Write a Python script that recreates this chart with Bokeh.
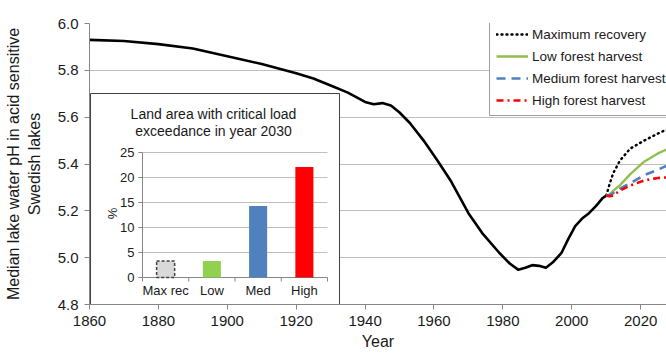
import math
from bokeh.plotting import figure
from bokeh.models import Range1d, FixedTicker, Legend, LegendItem, NumeralTickFormatter
from bokeh.core.properties import value
from bokeh.embed import file_html
from bokeh.resources import INLINE

# ---------------- data ----------------
hist_years = [1860, 1870, 1880, 1890, 1900, 1910, 1920, 1925, 1930, 1935, 1940, 1942.5,
              1945, 1947.5, 1950, 1953, 1957, 1961, 1965, 1970, 1974, 1979, 1982, 1984.5,
              1986.5, 1988.5, 1990.5, 1992.5, 1994.5, 1997, 1999, 2001, 2003, 2005, 2007,
              2009, 2010]
hist_ph = [5.93, 5.925, 5.912, 5.893, 5.86, 5.827, 5.788, 5.765, 5.735, 5.705, 5.665, 5.655,
           5.66, 5.65, 5.62, 5.575, 5.50, 5.415, 5.325, 5.19, 5.105, 5.02, 4.975, 4.948,
           4.957, 4.968, 4.965, 4.957, 4.98, 5.02, 5.08, 5.135, 5.167, 5.19, 5.22,
           5.255, 5.265]

scen_years = [2010, 2011, 2012, 2014, 2017, 2021, 2025, 2028]
max_recovery = [5.265, 5.315, 5.36, 5.415, 5.466, 5.50, 5.53, 5.55]
low_harvest = [5.265, 5.27, 5.285, 5.31, 5.357, 5.41, 5.445, 5.465]
medium_harvest = [5.265, 5.268, 5.275, 5.295, 5.318, 5.352, 5.376, 5.395]
high_harvest = [5.265, 5.262, 5.265, 5.287, 5.308, 5.33, 5.34, 5.343]

x_ticks = [1860, 1880, 1900, 1920, 1940, 1960, 1980, 2000, 2020]
y_ticks = [4.8, 5.0, 5.2, 5.4, 5.6, 5.8, 6.0]

inset_categories = ["Max rec", "Low", "Med", "High"]
inset_pct = [3.3, 3.3, 14.3, 22.1]
inset_colors = ["#d9d9d9", "#92d050", "#4f81bd", "#ff0000"]
inset_ticks = [0, 5, 10, 15, 20, 25]
inset_title = ["Land area with critical load", "exceedance in year 2030"]

FONT = value("Liberation Sans")
TXT = "#1a1a1a"

# ---------------- main figure ----------------
p = figure(width=666, height=355, x_range=Range1d(1860, 2027.5), y_range=Range1d(4.8, 6.0),
           output_backend="svg", toolbar_location=None,
           min_border_left=89, min_border_right=0, min_border_top=23, min_border_bottom=51)
p.outline_line_color = None
p.background_fill_color = "white"
p.border_fill_color = "white"

p.xgrid.visible = False
p.ygrid.grid_line_color = "#bfbfbf"
p.ygrid.grid_line_width = 1

for ax in (p.xaxis[0], p.yaxis[0]):
    ax.axis_line_color = "#868686"
    ax.major_tick_line_color = "#868686"
    ax.minor_tick_line_color = None
    ax.major_tick_in = 0
    ax.major_tick_out = 5
    ax.major_label_text_font = "Liberation Sans"
    ax.major_label_text_font_size = "15px"
    ax.major_label_text_color = TXT
    ax.axis_label_text_font = "Liberation Sans"
    ax.axis_label_text_font_size = "16px"
    ax.axis_label_text_font_style = "normal"
    ax.axis_label_text_color = TXT

p.xaxis.ticker = FixedTicker(ticks=x_ticks)
p.yaxis.ticker = FixedTicker(ticks=y_ticks)
p.yaxis.formatter = NumeralTickFormatter(format="0.0")
p.xaxis.axis_label = "Year"
p.yaxis.axis_label = "Median lake water pH in acid sensitive\nSwedish lakes"
p.xaxis.major_label_standoff = 6
p.xaxis.axis_label_standoff = 4
p.yaxis.major_label_standoff = 6
p.yaxis.axis_label_standoff = 12

# historical curve
p.line(hist_years, hist_ph, line_color="black", line_width=2.6)

# scenarios
r_max = p.line(scen_years, max_recovery, line_color="black", line_width=2.4,
               line_dash="1 4", line_cap="round")
r_low = p.line(scen_years, low_harvest, line_color="#8fc04f", line_width=2.4)
r_med = p.line(scen_years, medium_harvest, line_color="#4f81bd", line_width=2.6,
               line_dash="9 6")
r_high = p.line(scen_years, high_harvest, line_color="#ff0000", line_width=2.6,
                line_dash="7 4 2 4")

legend = Legend(items=[
    LegendItem(label="Maximum recovery", renderers=[r_max]),
    LegendItem(label="Low forest harvest", renderers=[r_low]),
    LegendItem(label="Medium forest harvest", renderers=[r_med]),
    LegendItem(label="High forest harvest", renderers=[r_high]),
], location=(400, 188))
legend.label_text_font = "Liberation Sans"
legend.label_text_font_size = "13.5px"
legend.label_text_color = TXT
legend.glyph_width = 32
legend.glyph_height = 18
legend.label_height = 18
legend.label_standoff = 4
legend.spacing = 4
legend.padding = 6
legend.margin = 0
legend.border_line_color = "#404040"
legend.border_line_width = 1
legend.background_fill_color = "white"
legend.background_fill_alpha = 1
p.add_layout(legend)

# ---------------- inset bar chart (own scales) ----------------
p.extra_x_ranges = {"ix": Range1d(-1.146, 11.33)}
p.extra_y_ranges = {"iy": Range1d(-5.4, 50.8)}
IX = dict(x_range_name="ix", y_range_name="iy")

p.quad(left=[-1.124], right=[4.26], bottom=[-5.4], top=[36.8], fill_color="white",
       line_color="#404040", line_width=1, **IX)

n = len(inset_categories)
xs = [i + 0.5 for i in range(n)]

# gridlines
grid_vals = [t for t in inset_ticks if t > 0]
p.segment(x0=[0] * len(grid_vals), x1=[n] * len(grid_vals), y0=grid_vals, y1=grid_vals,
          line_color="#bfbfbf", line_width=1, **IX)
# axes
p.segment(x0=[0], x1=[0], y0=[0], y1=[inset_ticks[-1]], line_color="#868686", line_width=1, **IX)
p.segment(x0=[0], x1=[n], y0=[0], y1=[0], line_color="#868686", line_width=1, **IX)
# ticks
p.segment(x0=[-0.09] * len(inset_ticks), x1=[0] * len(inset_ticks), y0=inset_ticks, y1=inset_ticks,
          line_color="#868686", line_width=1, **IX)
p.segment(x0=list(range(n + 1)), x1=list(range(n + 1)), y0=[0] * (n + 1), y1=[-0.8] * (n + 1),
          line_color="#868686", line_width=1, **IX)

# bars
p.vbar(x=xs[:1], top=inset_pct[:1], width=0.39, bottom=0, fill_color=inset_colors[:1],
       line_color="#404040", line_width=1.5, line_dash="3 2", **IX)
p.vbar(x=xs[1:], top=inset_pct[1:], width=0.39, bottom=0, fill_color=inset_colors[1:],
       line_color=None, **IX)

# tick labels
p.text(x=[0] * len(inset_ticks), y=inset_ticks, text=[str(t) for t in inset_ticks],
       x_offset=-8, text_align="right", text_baseline="middle", text_font=FONT,
       text_font_size="13px", text_color=TXT, **IX)
p.text(x=xs, y=[0] * n, text=inset_categories, y_offset=13, text_align="center",
       text_baseline="middle", text_font=FONT, text_font_size="13px", text_color=TXT, **IX)
p.text(x=[-0.65], y=[12.8], text=["%"], angle=math.pi / 2, text_align="center",
       text_baseline="middle", text_font=FONT, text_font_size="13px", text_color=TXT, **IX)
p.text(x=[1.535] * len(inset_title), y=[32.8, 29.4], text=inset_title, text_align="center",
       text_baseline="middle", text_font=FONT, text_font_size="14px", text_color=TXT, **IX)

open("out.html", "w").write(file_html(p, INLINE))
